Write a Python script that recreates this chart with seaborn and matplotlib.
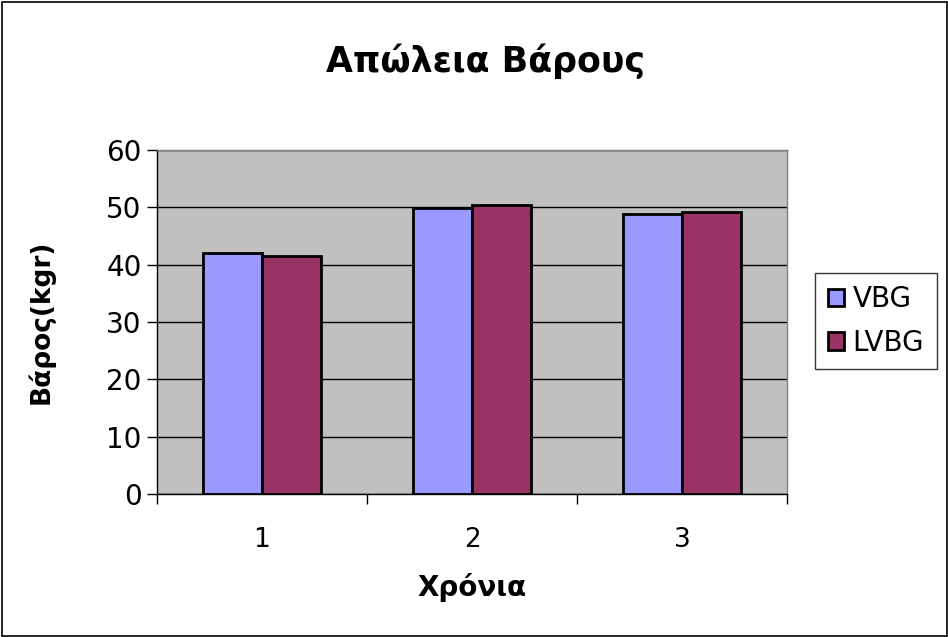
import matplotlib
matplotlib.use("Agg")
import matplotlib.pyplot as plt
from matplotlib.patches import Rectangle
import seaborn as sns
import pandas as pd

years = ["1", "2", "3"]
vbg = [42.0, 49.9, 48.8]
lvbg = [41.5, 50.4, 49.2]
series_names = ["VBG", "LVBG"]
colors = ["#9999FF", "#993366"]

df = pd.DataFrame({
    "year": years * 2,
    "value": vbg + lvbg,
    "series": [series_names[0]] * 3 + [series_names[1]] * 3,
})

sns.set_theme(style="white")
plt.rcParams["font.family"] = ["DejaVu Sans"]
plt.rcParams["text.color"] = "black"
plt.rcParams["xtick.color"] = "black"
plt.rcParams["ytick.color"] = "black"
plt.rcParams["axes.labelcolor"] = "black"

fig = plt.figure(figsize=(9.48, 6.37), dpi=100)
ax = fig.add_axes([157 / 948, 1 - 494 / 637, 630 / 948, 344 / 637])

sns.barplot(data=df, x="year", y="value", hue="series", palette=colors,
            width=0.56, gap=0, edgecolor="black", linewidth=2,
            saturation=1, ax=ax, legend=True)

ax.set_facecolor("#C0C0C0")
ax.set_ylim(0, 60)
ax.set_xlim(-0.5, 2.5)
ax.set_yticks(range(0, 61, 10))
ax.yaxis.grid(True, color="black", linewidth=1)
ax.set_axisbelow(True)
for side in ["top", "right"]:
    ax.spines[side].set_color("#808080")
    ax.spines[side].set_linewidth(1)
for side in ["left", "bottom"]:
    ax.spines[side].set_color("black")
    ax.spines[side].set_linewidth(1)

ax.set_xticks([0, 1, 2])
ax.set_xticklabels(years)
ax.set_xticks([-0.5, 0.5, 1.5, 2.5], minor=True)
ax.tick_params(axis="x", which="major", length=0, labelsize=19, pad=24)
ax.tick_params(axis="x", which="minor", length=7, width=1, color="black", direction="out", bottom=True)
ax.tick_params(axis="y", length=7, width=1, color="black", direction="out", left=True, labelsize=20, pad=4)

ax.set_xlabel("Χρόνια", fontsize=20, fontweight="bold", labelpad=14)
ax.set_ylabel("Βάρος(kgr)", fontsize=19, fontweight="bold", labelpad=37)

fig.text(485 / 948, 1 - 72 / 637, "Απώλεια Βάρους", ha="center", va="baseline",
         fontsize=25, fontweight="bold")

leg = ax.legend(loc="center left", bbox_to_anchor=(815 / 948, 1 - 321 / 637),
                bbox_transform=fig.transFigure, frameon=True, fancybox=False,
                fontsize=20, handlelength=0.6, handleheight=0.6, handletextpad=0.3,
                borderpad=0.45, labelspacing=0.55, borderaxespad=0)
leg.get_frame().set_edgecolor("black")
leg.get_frame().set_linewidth(1)

fig.patches.append(Rectangle((1.5 / 948, 1.5 / 637), 945 / 948, 634 / 637,
                             transform=fig.transFigure, fill=False,
                             edgecolor="black", linewidth=1.2))

fig.savefig("out.png", dpi=100, facecolor="white")
